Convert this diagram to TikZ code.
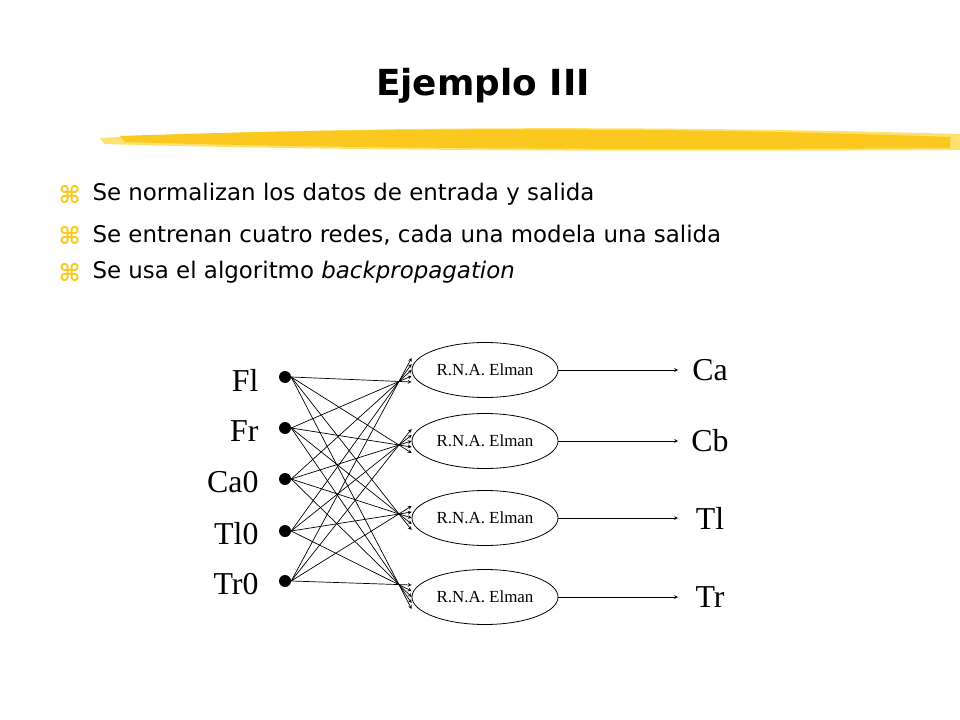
\documentclass[tikz,border=0pt]{standalone}
\usepackage{fontspec}
\setmainfont{Liberation Serif}
\newfontfamily\slidefont{DejaVu Sans}
\newfontfamily\symfont{DejaVu Sans}
\usetikzlibrary{arrows,positioning,shapes}
\definecolor{brush}{RGB}{250,200,30}
\definecolor{brushlight}{RGB}{252,225,110}
\tikzset{
  inp/.style={circle,fill=black,inner sep=0pt,minimum size=12bp},
  inlabel/.style={font=\fontsize{32}{32}\selectfont,anchor=east},
  outlabel/.style={font=\fontsize{32}{32}\selectfont},
  rna/.style={ellipse,draw,line width=0.8pt,minimum width=146bp,minimum height=55bp,inner sep=0pt,font=\fontsize{17}{17}\selectfont},
  link/.style={-stealth,line width=0.7pt}
}
\begin{document}
\begin{tikzpicture}[x=1bp,y=-1bp]
\useasboundingbox (0,0) rectangle (960,720);
% title and brush stroke
\node (title) at (483,86) {\slidefont\bfseries\fontsize{36}{36}\selectfont Ejemplo III};
\fill[brushlight] (100,138) .. controls (300,128) and (600,124) .. (960,134) -- (960,150) .. controls (600,152) and (300,150) .. (104,144) -- cycle;
\fill[brush] (120,136) .. controls (350,128) and (650,126) .. (950,137) -- (950,148) .. controls (650,150) and (350,149) .. (125,142) -- cycle;
% bullets
\foreach \y/\txt in {194/{Se normalizan los datos de entrada y salida},
  235/{Se entrenan cuatro redes, cada una modela una salida},
  272/{Se usa el algoritmo \textit{backpropagation}}}{
  \node[anchor=west,text=brush] at (55,\y) {\symfont\bfseries\fontsize{24}{24}\selectfont ⌘};
  \node[anchor=west] at (89,\y) {\slidefont\fontsize{23}{23}\selectfont \txt};
}
% inputs
\foreach \i/\y/\lab in {1/377/Fl,2/428/Fr,3/479/Ca0,4/531/Tl0,5/581/Tr0}{
  \node[inp] (in\i) at (285,\y) {};
  \node[inlabel] (lab\i) at (262,\y+3) {\lab};
}
% networks and outputs
\foreach \j/\y/\lab in {1/370/Ca,2/441/Cb,3/518/Tl,4/597/Tr}{
  \node[rna] (net\j) at (485,\y) {R.N.A. Elman};
  \node[outlabel] (out\j) at (710,\y) {\lab};
  \coordinate (end\j) at (678,\y);
  \draw[link] (net\j.east) -- (end\j);
}
\foreach \i in {1,...,5}
  \foreach \j in {1,...,4}
    \draw[link] (in\i.east) -- ([yshift=(\i-3)*6bp]net\j.west);
\end{tikzpicture}
\end{document}
